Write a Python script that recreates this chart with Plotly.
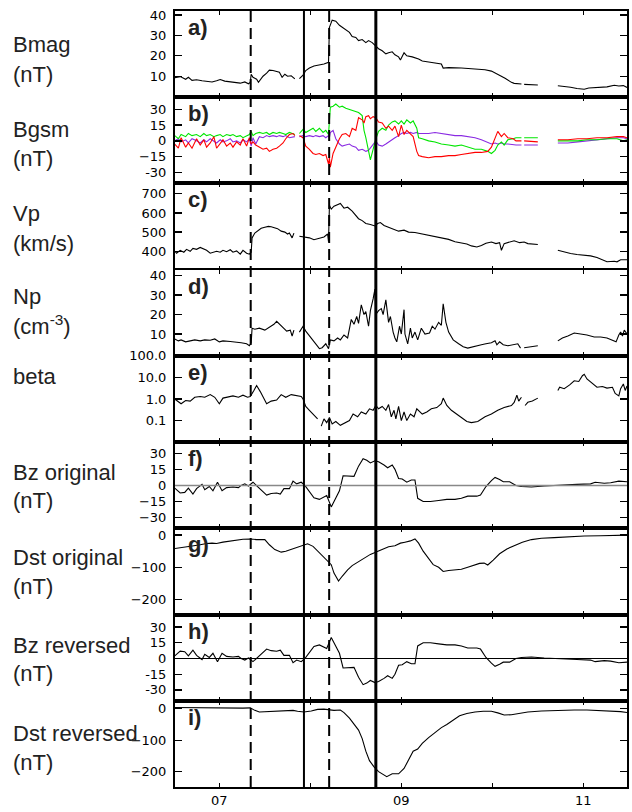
import plotly.graph_objects as go
from plotly.subplots import make_subplots

# ---------------- data (day of month) ----------------
t_bmag = [6.51, 6.57, 6.63, 6.66, 6.70, 6.75, 6.81, 6.86, 6.92, 6.97, 7.01, 7.06, 7.12, 7.17, 7.23, 7.28,
          7.32, 7.34, 7.35, 7.37, 7.41, 7.43, 7.48, 7.52, 7.55, 7.59, 7.63, 7.66, 7.69, 7.72, 7.75, 7.79,
          7.83, 7.855, 7.88, 7.92, 7.95, 7.99, 8.04, 8.10, 8.15, 8.20, 8.21, 8.24, 8.28, 8.32, 8.37, 8.43,
          8.46, 8.50, 8.53, 8.57, 8.61, 8.64, 8.68, 8.72, 8.75, 8.79, 8.83, 8.86, 8.90, 8.93, 8.97, 8.99,
          9.03, 9.06, 9.12, 9.19, 9.23, 9.30, 9.37, 9.44, 9.46, 9.52, 9.66, 9.84, 9.92, 9.99, 10.06, 10.14,
          10.21, 10.24, 10.32, 10.335, 10.35, 10.50, 10.60, 10.72, 10.79, 10.86, 10.93, 11.01, 11.06, 11.12,
          11.19, 11.26, 11.34, 11.39, 11.44, 11.48]
bmag = [9.3, 9.8, 8.5, 9.5, 8.0, 8.3, 7.8, 7.5, 7.2, 7.8, 8.4, 7.6, 7.2, 7.0, 6.6, 7.2,
        6.3, 7.0, 11.0, 9.5, 8.5, 7.0, 10.0, 11.5, 13.0, 12.8, 12.5, 12.0, 9.5, 11.0, 10.0, 10.2,
        8.7, None, 8.8, 10.5, 12.8, 14.0, 15.0, 15.5, 16.0, 16.8, 34.0, 37.5, 37.0, 35.0, 33.5, 31.5,
        29.5, 29.0, 27.5, 28.0, 26.5, 27.5, 26.5, 25.0, 23.5, 22.5, 21.0, 21.5, 22.0, 20.5, 19.5, 18.0,
        21.5, 20.0, 19.5, 18.5, 17.5, 17.0, 16.5, 16.0, 14.0, 14.2, 14.0, 13.7, 13.2, 12.5, 11.0, 9.0,
        7.0, 6.5, 6.2, None, 6.0, 5.7, None, 5.3, 5.0, 4.6, 4.0, 3.6, 4.2, 4.4,
        4.6, 4.8, 5.6, 5.2, 5.4, 4.5]

t_bgsm = [6.51, 6.55, 6.58, 6.63, 6.66, 6.70, 6.75, 6.79, 6.83, 6.86, 6.90, 6.94, 6.97, 7.01, 7.04, 7.08,
          7.12, 7.15, 7.19, 7.23, 7.26, 7.30, 7.33, 7.35, 7.37, 7.40, 7.44, 7.48, 7.52, 7.55, 7.59, 7.63,
          7.66, 7.70, 7.73, 7.77, 7.81, 7.83, 7.855, 7.88, 7.92, 7.95, 7.99, 8.03, 8.06, 8.10, 8.14, 8.17,
          8.20, 8.21, 8.22, 8.25, 8.28, 8.32, 8.35, 8.39, 8.43, 8.46, 8.50, 8.53, 8.57, 8.59, 8.61, 8.64,
          8.66, 8.69, 8.72, 8.75, 8.79, 8.83, 8.86, 8.90, 8.93, 8.97, 9.00, 9.03, 9.06, 9.10, 9.13, 9.17,
          9.19, 9.23, 9.30, 9.37, 9.44, 9.52, 9.59, 9.66, 9.73, 9.81, 9.88, 9.95, 9.99, 10.03, 10.06, 10.10,
          10.13, 10.17, 10.23, 10.26, 10.32, 10.335, 10.35, 10.50, 10.60, 10.72, 10.83, 10.94, 11.04, 11.15,
          11.26, 11.37, 11.44, 11.48]
bx_green = [5, 2, 6, 4, 7, 5, 6, 4, 7, 5, 6, 4, 5, 6, 4, 6,
            5, 6, 4, 5, 3, 5, 6, 9, 5, 7, 8, 7, 8, 6, 8, 7,
            8, 7, 6, 8, 7, 6, None, 7, 11, 8, 10, 12, 9, 12, 8, 10,
            6, 28, 32, 33, 35, 32, 33, 31, 30, 29, 28, 27, 24, 10, 3, -8,
            -18, -8, 2, 9, 12, 10, 15, 18, 19, 16, 19, 16, 20, 17, 19, 12,
            3, 2, 0, -1, -3, -4, -5, -4, -6, -8, -8, -10, -12, -9, -4, -1,
            -4, 1, 2, 3, 3, None, 3, 3, None, 0, 0, 0, 1, 1,
            2, 2, 0, 1]
by_purple = [0, 2, -1, 1, -2, 2, 0, -2, 1, -1, 2, 0, -2, 1, -1, 0,
             2, -1, 0, -2, 1, -1, 2, -5, 3, -3, 4, 3, 5, 4, 5, 4,
             5, 4, 5, 3, 4, 4, None, 4, 5, 4, 5, 4, 5, 4, 5, 3,
             5, 3, 8, 10, 2, -3, -5, -4, -3, -5, -6, -9, -8, -9, -10, -9,
             -7, -4, 0, -4, -5, -3, -1, 1, 3, 5, 7, 8, 7, 8, 7, 8,
             7, 7, 7, 8, 7, 6, 5, 5, 4, 3, 1, -2, -3, -2, -3, -2,
             -3, -3, -4, -4, -4, None, -4, -4, None, -2, -2, -1, 0, 1,
             2, 3, 3, 2]
bz_red = [-3, -7, 3, -6, -2, -7, 2, -4, 1, -6, -2, 4, -7, -3, 1, -5,
          -2, -6, -1, -4, 2, -5, 3, -3, -1, -4, -6, -8, -7, -10, -8, -7,
          -5, -2, 2, 6, 7, 5, None, 5, 3, -5, -8, -12, -13, -12, -14, -13,
          -22, -16, -25, -12, -6, 2, 6, 7, 4, 12, 10, 22, 20, 17, 23, 24,
          21, 23, 22, 18, 17, 12, 14, 10, 14, 4, 15, 6, 10, 6, 4, -10,
          -14, -15, -16, -15, -15, -14, -14, -13, -12, -11, -11, -10, -6, 2, 9, 4,
          7, 3, 2, 0, 0, None, 0, -1, None, 1, 1, 2, 2, 3,
          3, 4, 4, 3]

t_vp = [6.51, 6.53, 6.57, 6.61, 6.64, 6.68, 6.71, 6.75, 6.79, 6.83, 6.86, 6.90, 6.94, 6.97, 7.01, 7.04,
        7.08, 7.12, 7.15, 7.19, 7.23, 7.26, 7.30, 7.33, 7.35, 7.36, 7.39, 7.43, 7.46, 7.50, 7.54, 7.57,
        7.61, 7.64, 7.68, 7.72, 7.75, 7.77, 7.80, 7.82, 7.85, 7.88, 7.93, 7.99, 8.04, 8.10, 8.15, 8.19,
        8.20, 8.21, 8.23, 8.26, 8.30, 8.33, 8.37, 8.41, 8.46, 8.50, 8.53, 8.57, 8.61, 8.66, 8.71, 8.74,
        8.77, 8.81, 8.86, 8.92, 8.97, 9.03, 9.08, 9.15, 9.23, 9.30, 9.37, 9.44, 9.52, 9.59, 9.66, 9.72,
        9.77, 9.83, 9.88, 9.93, 9.99, 10.04, 10.08, 10.10, 10.13, 10.19, 10.24, 10.30, 10.35, 10.39, 10.50,
        10.60, 10.72, 10.79, 10.86, 10.93, 11.01, 11.08, 11.15, 11.21, 11.26, 11.34, 11.37, 11.41, 11.48]
vp = [400, 390, 405, 395, 410, 400, 415, 410, 420, 412, 405, 390, 398, 400, 395, 405,
      398, 408, 395, 402, 385, 405, 390, 385, 395, 470, 495, 510, 520, 525, 530, 528,
      520, 518, 505, 500, 490, 495, 470, 495, None, 478, 475, 470, 460, 470, 475, 490,
      450, 640, 620, 635, 645, 650, 625, 630, 610, 590, 570, 560, 545, 540, 532, 545,
      550, 535, 525, 515, 505, 510, 500, 498, 490, 485, 478, 470, 462, 450, 445, 438,
      428, 422, 430, 442, 448, 440, 445, 405, 440, 448, 455, 445, 448, 440, 435,
      None, 405, 395, 388, 383, 380, 376, 368, 355, 345, 348, 345, 356, 356]

t_np = [6.51, 6.55, 6.58, 6.63, 6.68, 6.73, 6.79, 6.84, 6.90, 6.95, 7.00, 7.04, 7.12, 7.19, 7.24, 7.30,
        7.33, 7.35, 7.36, 7.39, 7.44, 7.50, 7.55, 7.60, 7.63, 7.67, 7.71, 7.74, 7.78, 7.80, 7.82, 7.85,
        7.88, 7.92, 7.95, 7.99, 8.03, 8.06, 8.10, 8.13, 8.17, 8.20, 8.22, 8.26, 8.30, 8.33, 8.37, 8.41,
        8.43, 8.45, 8.48, 8.51, 8.53, 8.56, 8.59, 8.61, 8.64, 8.66, 8.69, 8.71, 8.72, 8.75, 8.78, 8.80,
        8.83, 8.86, 8.88, 8.91, 8.93, 8.95, 8.98, 9.00, 9.03, 9.04, 9.07, 9.10, 9.12, 9.15, 9.18, 9.22,
        9.26, 9.31, 9.34, 9.37, 9.41, 9.44, 9.46, 9.49, 9.52, 9.57, 9.63, 9.68, 9.73, 9.81, 9.88, 9.93,
        9.99, 10.03, 10.05, 10.08, 10.12, 10.17, 10.23, 10.28, 10.31, 10.33, 10.35, 10.43, 10.50, 10.60,
        10.72, 10.77, 10.83, 10.90, 10.97, 11.04, 11.12, 11.19, 11.26, 11.32, 11.36, 11.39, 11.41, 11.43,
        11.45, 11.48]
np_ = [7.5, 6.5, 7.0, 6.0, 6.5, 7.0, 6.5, 7.0, 6.8, 7.5, 6.0, 6.5, 6.2, 6.0, 5.5, 5.0,
       4.0, 5.5, 13.0, 12.5, 13.0, 12.0, 13.5, 15.0, 16.5, 14.5, 12.5, 11.5, 12.0, 9.0, 12.0, None,
       11.0, 14.0, 11.5, 9.0, 6.5, 5.0, 2.5, 3.0, 5.0, 2.5, 7.0, 6.5, 8.0, 7.0, 9.5, 8.0,
       14.0, 17.5, 15.0, 19.0, 15.5, 25.0, 20.0, 21.5, 14.0, 22.0, 28.0, 33.0, 20.0, 22.0, 23.0, 20.0,
       27.5, 16.0, 19.0, 11.0, 8.0, 6.0, 14.0, 10.0, 22.5, 10.0, 5.0, 13.0, 8.0, 11.0, 7.0, 13.0,
       10.0, 10.5, 14.0, 12.5, 16.0, 14.5, 25.5, 16.0, 11.0, 7.0, 5.0, 3.5, 2.8, 3.5, 4.5, 5.0,
       5.5, 6.5, 4.5, 6.0, 4.5, 4.0, 4.5, 5.0, 2.8, None, 3.0, 3.5, 4.0, None,
       6.5, 8.0, 9.0, 10.5, 10.0, 9.5, 8.5, 8.5, 8.0, 7.0, 6.0, 9.5, 11.0, 9.0,
       12.0, 10.0]

t_beta = [6.51, 6.55, 6.58, 6.63, 6.68, 6.73, 6.79, 6.84, 6.90, 6.95, 7.00, 7.04, 7.10, 7.15, 7.21, 7.26,
          7.31, 7.34, 7.38, 7.41, 7.45, 7.49, 7.52, 7.57, 7.63, 7.68, 7.73, 7.79, 7.84, 7.90, 7.92, 7.95,
          7.99, 8.03, 8.08, 8.10, 8.12, 8.15, 8.18, 8.21, 8.24, 8.28, 8.33, 8.39, 8.43, 8.47, 8.52, 8.56,
          8.61, 8.65, 8.69, 8.72, 8.75, 8.79, 8.83, 8.86, 8.89, 8.92, 8.94, 8.97, 9.00, 9.03, 9.06, 9.10,
          9.14, 9.17, 9.23, 9.28, 9.33, 9.39, 9.44, 9.46, 9.50, 9.55, 9.61, 9.66, 9.72, 9.77, 9.84, 9.92,
          9.99, 10.06, 10.13, 10.21, 10.24, 10.27, 10.29, 10.32, 10.34, 10.36, 10.39, 10.44, 10.50, 10.60,
          10.72, 10.74, 10.79, 10.85, 10.90, 10.95, 10.99, 11.01, 11.04, 11.10, 11.15, 11.21, 11.26, 11.32,
          11.35, 11.39, 11.41, 11.44, 11.46, 11.48]
beta = [1.0, 0.75, 0.6, 0.85, 0.8, 1.2, 1.3, 1.2, 1.6, 1.2, 0.6, 1.1, 1.3, 1.4, 1.2, 1.5,
        1.2, 1.3, 2.5, 4.2, 2.2, 1.0, 0.6, 0.8, 0.9, 1.6, 1.2, 1.6, 1.5, 1.3, 1.0, 0.45,
        0.3, 0.2, 0.12, None, 0.055, 0.12, 0.08, 0.14, 0.07, 0.09, 0.06, 0.08, 0.1, 0.2, 0.15, 0.25,
        0.2, 0.35, 0.3, 0.5, 0.35, 0.45, 0.3, 0.55, 0.15, 0.3, 0.12, 0.45, 0.1, 0.25, 0.1, 0.2,
        0.15, 0.35, 0.2, 0.25, 0.35, 0.4, 0.6, 1.1, 0.5, 0.3, 0.2, 0.13, 0.09, 0.08, 0.09, 0.15,
        0.2, 0.3, 0.4, 0.5, 0.7, 1.5, 0.8, 1.2, None, 0.5, 0.7, 0.8, 1.1, None,
        2.5, 3.5, 3.0, 4.5, 7.0, 6.5, 12.0, 14.0, 8.5, 5.0, 3.5, 3.8, 3.2, 3.5,
        1.8, 1.4, 3.0, 5.0, 2.5, 4.0]

t_bz = [6.51, 6.57, 6.62, 6.66, 6.71, 6.75, 6.81, 6.84, 6.89, 6.93, 6.98, 7.03, 7.08, 7.15, 7.21, 7.24,
        7.28, 7.32, 7.37, 7.42, 7.48, 7.52, 7.57, 7.63, 7.67, 7.71, 7.77, 7.81, 7.85, 7.90, 7.94, 7.99,
        8.04, 8.10, 8.15, 8.18, 8.23, 8.27, 8.32, 8.36, 8.43, 8.48, 8.53, 8.58, 8.62, 8.66, 8.71, 8.75,
        8.81, 8.85, 8.90, 8.93, 8.97, 9.01, 9.06, 9.11, 9.15, 9.18, 9.24, 9.32, 9.41, 9.50, 9.59, 9.66,
        9.73, 9.83, 9.87, 9.93, 9.99, 10.03, 10.08, 10.12, 10.19, 10.26, 10.32, 10.43, 10.57, 10.75, 10.93, 11.08,
        11.13, 11.23, 11.30, 11.39, 11.48]
bz_original = [-2.5, -7, -6.5, -2.5, -8, -3, 1, -4, -1, -5, 3, -5, -2, -1.5, -2, 0,
               1.5, -0.5, 3, -1, -5.5, -9, -7.5, -7, -8, -3, -3, 4, 1.5, 3, 0, -6,
               -11.5, -13, -11, -9.5, -20, -13, -5, 9, 9, 8.5, 18, 25, 23.5, 21, 23, 22,
               19, 16.5, 19, 15, 6.5, 6, 3, 5, 5, -12, -15, -15, -14, -13, -13, -12,
               -10, -10, -9, -1, 4.5, 7.5, 5.5, 3.5, 3.5, 0, -1, -1.5, -0.5, 0.5, 1, 1.5,
               3, 2, 2.5, 4, 3.5]
bz_reversed = [2.5, 7, 6.5, 2.5, 8, 3, -1, 4, 1, 5, -3, 5, 2, 1.5, 2, 0,
               -1.5, 0.5, -3, 1, 5.5, 9, 7.5, 7, 8, 3, 3, -4, -1.5, -3, 0, 6,
               11.5, 13, 11, 9.5, 20, 13, 5, -9, -9, -8.5, -18, -25, -23.5, -21, -23, -22,
               -19, -16.5, -19, -15, -6.5, -6, -3, -5, -5, 12, 15, 15, 14, 13, 13, 12,
               10, 10, 9, 1, -4.5, -7.5, -5.5, -3.5, -3.5, 0, 1, 1.5, 0.5, -0.5, -1, -1.5,
               -3, -2, -2.5, -4, -3.5]

t_dst = [6.51, 6.57, 6.64, 6.72, 6.79, 6.86, 6.92, 6.97, 7.04, 7.12, 7.19, 7.26, 7.34, 7.41, 7.50, 7.55,
         7.61, 7.68, 7.73, 7.81, 7.88, 7.93, 7.97, 8.03, 8.08, 8.13, 8.19, 8.23, 8.26, 8.31, 8.35, 8.41,
         8.46, 8.53, 8.61, 8.66, 8.73, 8.81, 8.86, 8.93, 8.99, 9.04, 9.10, 9.15, 9.19, 9.24, 9.30, 9.35,
         9.41, 9.46, 9.52, 9.59, 9.66, 9.73, 9.81, 9.86, 9.91, 9.95, 10.01, 10.08, 10.16, 10.24, 10.33, 10.43,
         10.54, 10.68, 10.83, 11.01, 11.19, 11.34, 11.48]
dst_original = [-42, -40, -36, -33, -30, -26, -25, -26, -22, -19, -15, -13, -12, -14, -14, -30,
                -45, -53, -50, -43, -36, -32, -27, -35, -50, -65, -80, -92, -118, -143, -128, -108,
                -95, -83, -68, -60, -52, -43, -36, -33, -25, -22, -18, -12, -25, -50, -75, -92,
                -100, -113, -110, -108, -106, -100, -94, -88, -87, -93, -78, -58, -43, -32, -22, -14,
                -10, -8, -5, -3, -2, -1, 0]

t_dstr = [6.51, 6.75, 7.00, 7.12, 7.26, 7.34, 7.39, 7.44, 7.52, 7.63, 7.73, 7.81, 7.86, 7.93, 8.01, 8.08,
          8.15, 8.21, 8.26, 8.33, 8.37, 8.43, 8.48, 8.53, 8.57, 8.61, 8.65, 8.70, 8.75, 8.81, 8.84, 8.90,
          8.97, 9.03, 9.08, 9.13, 9.18, 9.23, 9.30, 9.37, 9.44, 9.50, 9.57, 9.64, 9.72, 9.81, 9.90, 9.99,
          10.06, 10.13, 10.21, 10.28, 10.39, 10.54, 10.72, 10.90, 11.04, 11.12, 11.19, 11.30, 11.41, 11.48]
dst_reversed = [4, 3, 1, 1, 2, 3, -5, -10, -9, -8, -5, -5, -8, -10, -7, -2,
                -1, -3, -5, -4, -12, -30, -50, -68, -95, -135, -165, -185, -200, -210, -216, -207,
                -207, -190, -160, -135, -128, -110, -92, -75, -60, -50, -35, -22, -15, -10, -8, -8,
                -13, -20, -19, -16, -10, -7, -5, -4, -4, -5, -7, -7, -9, -12]

event_dashed = [7.345, 8.207]
event_solid = [7.93, 8.72]
event_solid_width = [2, 3]

x_tickvals = [7, 9, 11]
x_ticktext = ["07", "09", "11"]
x_minor_ticks = [8, 10]

# ---------------- figure ----------------
W, H = 632, 812
ML, MR, MT, MB = 175, 3, 11, 25
fig = make_subplots(rows=9, cols=1, shared_xaxes=True, vertical_spacing=0)


def add_line(row, t, y, color="black", width=1.1):
    fig.add_trace(go.Scatter(x=t, y=y, mode="lines", line=dict(color=color, width=width),
                             connectgaps=False, showlegend=False, hoverinfo="skip"), row=row, col=1)


add_line(1, t_bmag, bmag)
add_line(2, t_bgsm, by_purple, color="#8a2be2")
add_line(2, t_bgsm, bx_green, color="#00e600")
add_line(2, t_bgsm, bz_red, color="#ff0000")
add_line(3, t_vp, vp)
add_line(4, t_np, np_)
add_line(5, t_beta, beta)
add_line(6, t_bz, bz_original)
add_line(7, t_dst, dst_original)
add_line(8, t_bz, bz_reversed)
add_line(9, t_dstr, dst_reversed)

tick_font = dict(family="DejaVu Sans", size=13, color="black")
yaxes = [
    dict(range=[-0.3, 42], tickvals=[10, 20, 30, 40], ticktext=["10", "20", "30", "40"]),
    dict(range=[-40.5, 41.5], tickvals=[30, 15, 0, -15, -30], ticktext=["30", "15", "0", "\u221215", "-30"]),
    dict(range=[304, 754], tickvals=[400, 500, 600, 700], ticktext=["400", "500", "600", "700"]),
    dict(range=[-1.2, 43], tickvals=[10, 20, 30, 40], ticktext=["10", "20", "30", "40"]),
    dict(type="log", range=[-2, 2], tickvals=[0.1, 1, 10, 100], ticktext=["0.1", "1.0", "10.0", "100.0"]),
    dict(range=[-40, 40.4], tickvals=[30, 15, 0, -15, -30], ticktext=["30", "15", "0", "\u221215", "\u221230"]),
    dict(range=[-247, 21], tickvals=[0, -100, -200], ticktext=["0", "\u2212100", "\u2212200"]),
    dict(range=[-40.4, 42], tickvals=[30, 15, 0, -15, -30], ticktext=["30", "15", "0", "-15", "-30"]),
    dict(range=[-249, 25.5], tickvals=[0, -100, -200], ticktext=["0", "\u2212100", "\u2212200"]),
]
for i, ya in enumerate(yaxes, start=1):
    fig.update_yaxes(row=i, col=1, ticks="inside", ticklen=7, tickwidth=1.3, tickcolor="black",
                     mirror="allticks", showline=True, linecolor="black", linewidth=2,
                     showgrid=False, zeroline=False, tickfont=tick_font, ticklabelstandoff=4, **ya)
    fig.update_xaxes(row=i, col=1, range=[6.513, 11.48], tickvals=x_tickvals, ticktext=x_ticktext,
                     ticks="inside", ticklen=4, tickwidth=1.3, tickcolor="black", mirror="allticks",
                     minor=dict(tickvals=x_minor_ticks, ticks="inside", ticklen=4, tickwidth=1.3,
                                tickcolor="black", showgrid=False),
                     showline=True, linecolor="black", linewidth=2, showgrid=False, zeroline=False,
                     tickfont=tick_font)

# zero lines in Bz panels
fig.add_hline(y=0, row=6, col=1, line=dict(color="#888888", width=1.5))
fig.add_hline(y=0, row=8, col=1, line=dict(color="black", width=1))

# event lines through all panels
for v in event_dashed:
    fig.add_shape(type="line", xref="x", yref="paper", x0=v, x1=v, y0=0, y1=1,
                  line=dict(color="black", width=2, dash="11px,6px"))
for v, w in zip(event_solid, event_solid_width):
    fig.add_shape(type="line", xref="x", yref="paper", x0=v, x1=v, y0=0, y1=1,
                  line=dict(color="black", width=w))

# panel letters
letters = ["a)", "b)", "c)", "d)", "e)", "f)", "g)", "h)", "i)"]
for i, lab in enumerate(letters, start=1):
    xs = "x domain" if i == 1 else f"x{i} domain"
    ys = "y domain" if i == 1 else f"y{i} domain"
    fig.add_annotation(text=f"<b>{lab}</b>", xref=xs, yref=ys, x=0.025, y=1.0, xanchor="left",
                       yanchor="top", yshift=-2, showarrow=False,
                       font=dict(family="Liberation Sans", size=22, color="#222222"))

# left labels
plot_h = H - MT - MB


def py(ypx):
    return (H - MB - ypx) / plot_h


px_x = (10 - ML) / (W - ML - MR)
left_labels = [
    ("Bmag", 45), ("(nT)", 74),
    ("Bgsm", 129), ("(nT)", 158),
    ("Vp", 214), ("(km/s)", 243),
    ("Np", 296), ("(cm<sup>-3</sup>)", 325),
    ("beta", 376),
    ("Bz original", 472), ("(nT)", 500),
    ("Dst original", 557), ("(nT)", 586),
    ("Bz reversed", 645), ("(nT)", 673),
    ("Dst reversed", 733), ("(nT)", 762),
]
for txt, ypx in left_labels:
    fig.add_annotation(text=txt, xref="paper", yref="paper", x=px_x, y=py(ypx), xanchor="left",
                       yanchor="middle", showarrow=False,
                       font=dict(family="Liberation Sans", size=22, color="#222222"))

fig.update_layout(width=W, height=H, margin=dict(l=ML, r=MR, t=MT, b=MB),
                  paper_bgcolor="white", plot_bgcolor="white", showlegend=False)

fig.write_html("out.html", config={"displayModeBar": False, "staticPlot": True},
               post_script="document.body.style.margin='0';document.body.style.overflow='hidden';")
